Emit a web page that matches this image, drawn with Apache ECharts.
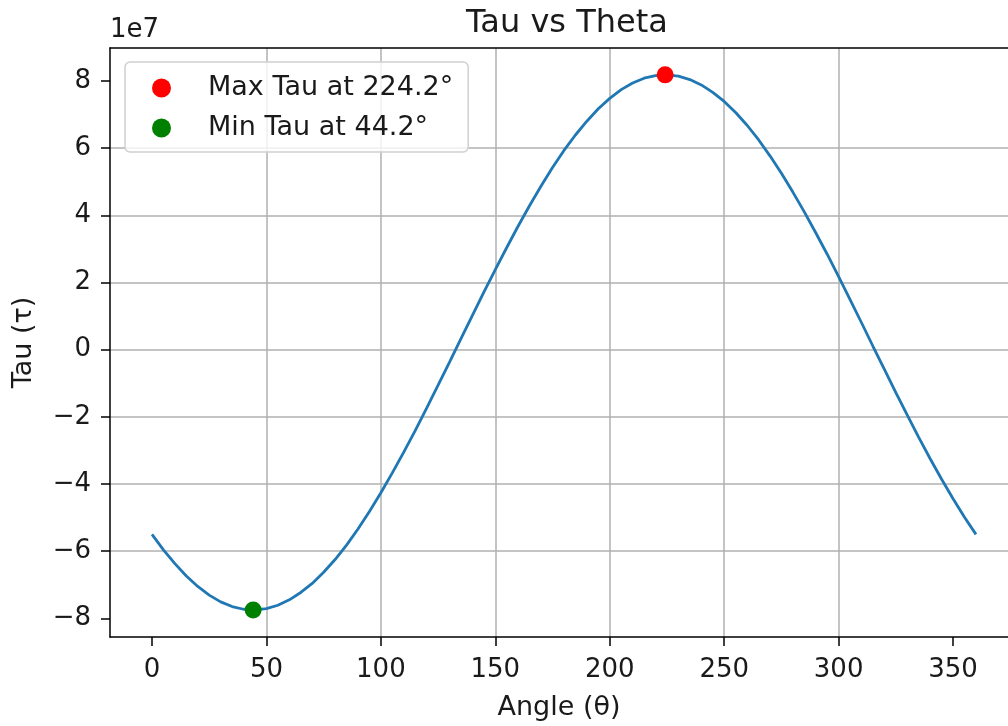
<!DOCTYPE html>
<html>
<head>
<meta charset="utf-8">
<script src="https://cdn.jsdelivr.net/npm/echarts@6/dist/echarts.min.js"></script>
<style>
html,body{margin:0;padding:0;background:#fff;}
#chart{width:1008px;height:726px;}
</style>
</head>
<body>
<div id="chart"></div>
<script>
// Angle in degrees, Tau in units of 1e7
var angles = [0,5,10,15,20,25,30,35,40,45,50,55,60,65,70,75,80,85,90,95,100,105,110,115,120,125,130,135,140,145,150,155,160,165,170,175,180,185,190,195,200,205,210,215,220,225,230,235,240,245,250,255,260,265,270,275,280,285,290,295,300,305,310,315,320,325,330,335,340,345,350,355,360];
var tauValues = [-5.50,-5.96,-6.37,-6.74,-7.05,-7.31,-7.51,-7.65,-7.73,-7.75,-7.71,-7.61,-7.45,-7.23,-6.96,-6.63,-6.25,-5.82,-5.34,-4.82,-4.26,-3.67,-3.05,-2.41,-1.74,-1.06,-0.37,0.33,1.02,1.71,2.38,3.04,3.68,4.29,4.87,5.42,5.93,6.39,6.80,7.17,7.48,7.74,7.94,8.08,8.16,8.18,8.14,8.04,7.88,7.66,7.39,7.06,6.68,6.25,5.77,5.25,4.69,4.10,3.48,2.84,2.17,1.49,0.80,0.10,-0.59,-1.28,-1.95,-2.61,-3.25,-3.86,-4.44,-4.99,-5.50];
var maxPoint = [224.2, 8.18];
var minPoint = [44.2, -7.75];
var maxLabel = 'Max Tau at 224.2°';
var minLabel = 'Min Tau at 44.2°';
var xTicks = [0,50,100,150,200,250,300,350];
var yTicks = [-8,-6,-4,-2,0,2,4,6,8];

var FONT = 'DejaVu Sans';
var TXT = '#1a1a1a';
var lineData = angles.map(function(a,i){return [a, tauValues[i]];});
var X_MIN = -18.35, X_MAX = 374.0, Y_MIN = -8.556, Y_MAX = 8.98;

var chart = echarts.init(document.getElementById('chart'));
chart.setOption({
  animation:false,
  backgroundColor:'#fff',
  textStyle:{fontFamily:FONT},
  title:{
    text:'Tau vs Theta',
    left:562, top:3, textAlign:'center',
    textStyle:{fontFamily:FONT,fontSize:32,fontWeight:'normal',color:TXT}
  },
  graphic:[{
    type:'text', left:110, top:17,
    style:{text:'1e7', font:'26px "DejaVu Sans"', fill:TXT}
  }],
  legend:{
    data:[maxLabel,minLabel],
    orient:'vertical',
    left:125, top:62,
    icon:'circle',
    itemWidth:19, itemHeight:19,
    itemGap:12,
    padding:[12,15,10,27],
    backgroundColor:'rgba(255,255,255,0.8)',
    borderColor:'#d0d0d0', borderWidth:1.5, borderRadius:5,
    textStyle:{fontFamily:FONT,fontSize:27,color:TXT,padding:[0,0,0,32],lineHeight:28}
  },
  grid:{left:110, top:48, bottom:88, right:0, show:false, containLabel:false},
  xAxis:[{
    type:'value', min:X_MIN, max:X_MAX, minInterval:50, maxInterval:50,
    name:'Angle (θ)', nameLocation:'middle', nameGap:57,
    nameTextStyle:{fontFamily:FONT,fontSize:27,color:TXT},
    axisLine:{show:true,onZero:false,lineStyle:{color:'#000',width:1.5}},
    axisTick:{show:true,length:9,lineStyle:{color:'#000',width:1.5},customValues:xTicks},
    axisLabel:{fontFamily:FONT,fontSize:26,color:TXT,margin:20,customValues:xTicks},
    splitLine:{show:true,showMinLine:false,showMaxLine:false,lineStyle:{color:'#b0b0b0',width:1.5}}
  },{
    type:'value', position:'top', min:X_MIN, max:X_MAX,
    axisLine:{show:true,onZero:false,lineStyle:{color:'#000',width:1.5}},
    axisTick:{show:false}, axisLabel:{show:false}, splitLine:{show:false}
  }],
  yAxis:{
    type:'value', min:Y_MIN, max:Y_MAX, minInterval:2, maxInterval:2,
    name:'Tau (τ)', nameLocation:'middle', nameGap:73,
    nameTextStyle:{fontFamily:FONT,fontSize:27,color:TXT},
    axisLine:{show:true,onZero:false,lineStyle:{color:'#000',width:1.5}},
    axisTick:{show:true,length:9,lineStyle:{color:'#000',width:1.5},customValues:yTicks},
    axisLabel:{fontFamily:FONT,fontSize:26,color:TXT,margin:19,customValues:yTicks,
      formatter:function(v){return v<0?'\u2212'+Math.abs(v):String(v);}},
    splitLine:{show:true,showMinLine:false,showMaxLine:false,lineStyle:{color:'#b0b0b0',width:1.5}}
  },
  series:[
    {type:'line', data:lineData, smooth:false, showSymbol:false, symbol:'none',
     lineStyle:{color:'#1f77b4',width:2.8}, z:2},
    {type:'scatter', name:maxLabel, data:[maxPoint], symbol:'circle', symbolSize:17,
     itemStyle:{color:'#ff0000',opacity:1}, z:5},
    {type:'scatter', name:minLabel, data:[minPoint], symbol:'circle', symbolSize:17,
     itemStyle:{color:'#008000',opacity:1}, z:5}
  ]
});
</script>
</body>
</html>
